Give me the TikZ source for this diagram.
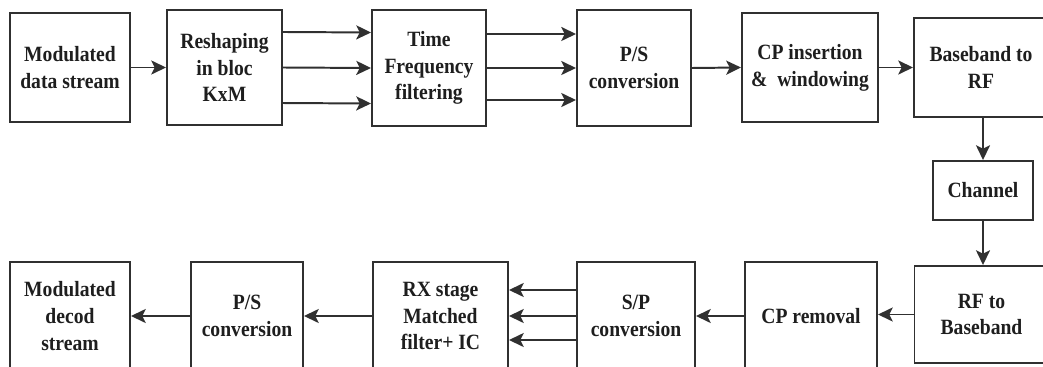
\documentclass[tikz,border=0pt]{standalone}
\usepackage{fontspec}
\setmainfont{Liberation Serif}[FakeStretch=0.9]
\usetikzlibrary{arrows.meta,calc}
\definecolor{ln}{HTML}{303030}
\definecolor{tx}{HTML}{1E1E1E}
\tikzset{
  blk/.style={draw=ln, line width=1.4pt, fill=white, align=center, inner sep=0pt,
    font=\fontsize{15.5pt}{19pt}\selectfont\bfseries, text=tx},
  conn/.style={draw=ln, line width=1.4pt, -{Stealth[length=10.5pt,width=10pt,inset=2.5pt]}}
}
\begin{document}
\begin{tikzpicture}[x=0.025cm, y=-0.025cm]
\useasboundingbox (0,0) rectangle (1043,367);
\clip (0,0) rectangle (1043,367);
\fill[white] (0,0) rectangle (1043,367);
% top row
\node[blk, minimum width=3cm, minimum height=2.725cm] (A1) at (70,67.5) {Modulated\\data stream};
\node[blk, minimum width=2.875cm, minimum height=2.875cm] (A2) at (224.5,67.5) {Reshaping\\in bloc\\KxM};
\node[blk, minimum width=2.85cm, minimum height=2.9cm] (A3) at (429,68) {Time\\Frequency\\filtering};
\node[blk, minimum width=2.85cm, minimum height=2.9cm] (A4) at (634,68) {P/S\\conversion};
\node[blk, minimum width=3.4cm, minimum height=2.725cm] (A5) at (810,67.5) {CP insertion\\\&\hspace{0.45em}windowing};
\node[blk, minimum width=3.35cm, minimum height=2.475cm] (A6) at (981,67.5) {Baseband to\\RF};
% channel
\node[blk, minimum width=2.5cm, minimum height=1.475cm] (Ch) at (983,190.5) {Channel};
% bottom row
\node[blk, minimum width=3.35cm, minimum height=2.425cm] (B6) at (981.5,314.5) {RF to\\Baseband};
\node[blk, minimum width=3.3cm, minimum height=2.7cm] (B5) at (811,316) {CP removal};
\node[blk, minimum width=2.95cm, minimum height=2.7cm] (B4) at (636,316) {S/P\\conversion};
\node[blk, minimum width=3.375cm, minimum height=2.7cm] (B3) at (440.5,316) {RX stage\\Matched\\filter+ IC};
\node[blk, minimum width=2.8cm, minimum height=2.7cm] (B2) at (247,316) {P/S\\conversion};
\node[blk, minimum width=3cm, minimum height=2.7cm] (B1) at (70,316) {Modulated\\decod\\stream};
% connectors top
\draw[conn] (A1.east) -- (A2.west);
\foreach \s in {0.8875cm,0cm,-0.8875cm}
  \draw[conn] ([yshift=\s]A2.east) -- ([yshift=\s]A3.west);
\foreach \s in {0.85cm,0cm,-0.8cm}
  \draw[conn] ([yshift=\s]A3.east) -- ([yshift=\s]A4.west);
\draw[conn] (A4.east) -- (A5.west);
\draw[conn] (A5.east) -- (A5.east -| A6.west);
\draw[conn] (A6.south -| Ch.north) -- (Ch.north);
\draw[conn] (Ch.south) -- (Ch.south |- B6.north);
% connectors bottom
\draw[conn] (B6.west) -- (B6.west -| B5.east);
\draw[conn] (B5.west) -- (B5.west -| B4.east);
\foreach \s in {0.65cm,0cm,-0.6cm}
  \draw[conn] ([yshift=\s]B4.west) -- ([yshift=\s]B3.east);
\draw[conn] (B3.west) -- (B2.east);
\draw[conn] (B2.west) -- (B1.east);
\end{tikzpicture}
\end{document}
